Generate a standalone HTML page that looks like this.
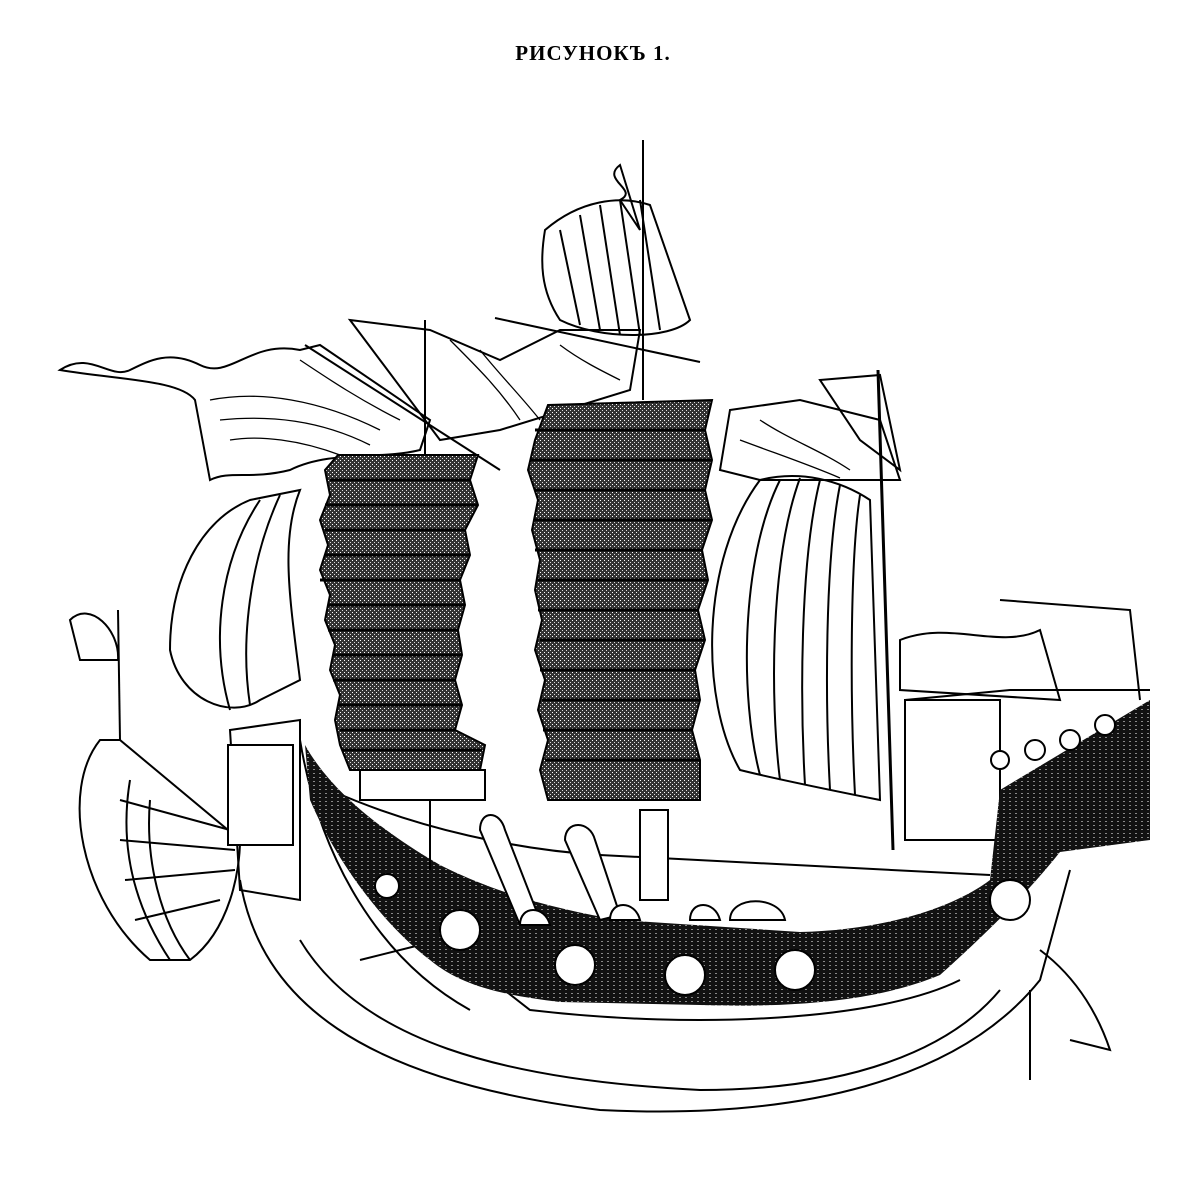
<!DOCTYPE html>
<html><head><meta charset="utf-8"><style>
html,body{margin:0;padding:0;background:#fff;}
svg{display:block}
</style></head><body>
<svg width="1202" height="1177" viewBox="0 0 1202 1177" xmlns="http://www.w3.org/2000/svg">
<defs>
<pattern id="dk" width="6" height="4" patternUnits="userSpaceOnUse">
<rect width="6" height="4" fill="#111"/><rect x="1" y="1" width="2" height="1" fill="#fff" opacity=".5"/>
</pattern>
<pattern id="sl" width="4" height="4" patternUnits="userSpaceOnUse">
<rect width="4" height="4" fill="#333"/><rect x="0" y="0" width="1" height="1" fill="#fff"/><rect x="2" y="2" width="1" height="1" fill="#ddd"/>
</pattern>
</defs>
<text x="593" y="60" text-anchor="middle" font-family="Liberation Serif, serif" font-weight="bold" font-size="21" letter-spacing="1">РИСУНОКЪ 1.</text>
<g fill="none" stroke="#000" stroke-width="2">
<!-- masts -->
<line x1="425" y1="320" x2="425" y2="460"/>
<line x1="643" y1="140" x2="643" y2="400"/>
<line x1="878" y1="370" x2="893" y2="850" stroke-width="3"/>
<line x1="118" y1="610" x2="120" y2="740"/>
<!-- flags -->
<path d="M60 370 C90 350,110 380,130 370 S170 350,200 365 S250 340,300 350 L320 345 L430 420 L420 450 C380 460,330 450,290 470 C250 480,230 470,210 480 L195 400 C180 380,120 380,60 370Z"/>
<path stroke-width="1.3" d="M210 400 C260 390,320 400,380 430 M220 420 C270 415,320 420,370 445 M230 440 C260 435,300 440,340 455 M300 360 C330 380,360 400,400 420"/>
<path d="M305 345 L500 470"/>
<path d="M350 320 L430 330 L500 360 L560 330 L640 330 L630 390 L500 430 L440 440 Z"/>
<path stroke-width="1.3" d="M450 340 C480 370,500 390,520 420 M480 350 C500 375,520 395,540 420 M560 345 C580 360,600 370,620 380"/>
<path d="M620 165 C600 180,640 190,620 200 L640 230 Z"/>
<path d="M820 380 L880 375 L900 470 L860 440 Z"/>
<path d="M730 410 L800 400 L880 420 L900 480 L760 480 L720 470 Z"/>
<path stroke-width="1.3" d="M760 420 C790 440,820 450,850 470 M740 440 C780 455,810 465,840 478"/>
<path d="M70 620 C90 600,120 630,118 660 L80 660 Z"/>
<!-- top sail -->
<path d="M545 230 C580 200,620 195,650 205 L690 320 C670 340,600 340,560 320 C540 290,540 260,545 230Z"/>
<path d="M560 230 L580 325 M580 215 L600 330 M600 205 L620 335 M620 200 L640 335 M640 200 L660 330"/>
<line x1="495" y1="318" x2="700" y2="362"/>
<!-- right big sail -->
<path d="M760 480 C800 470,840 480,870 500 L880 800 C830 790,780 780,740 770 C700 700,700 560,760 480Z"/>
<path d="M780 480 C740 560,740 700,760 775 M800 478 C770 560,770 700,780 780 M820 480 C800 560,800 700,805 785 M840 485 C825 560,825 700,830 790 M860 495 C850 560,850 700,855 795"/>
<!-- left small sail -->
<path d="M250 500 C200 520,170 580,170 650 C180 700,230 720,260 700 L300 680 C290 600,280 540,300 490Z"/>
<path d="M260 500 C220 560,210 640,230 710 M280 495 C250 560,240 640,250 705"/>
<!-- bow sail -->
<path d="M100 740 C60 790,80 900,150 960 L190 960 C230 930,240 870,240 840 L120 740 Z"/>
<path d="M130 780 C120 840,130 900,170 960 M150 800 C145 860,160 920,190 960 M120 800 L230 830 M120 840 L235 850 M125 880 L235 870 M135 920 L220 900"/>
<!-- hull white lower -->
<path d="M240 880 C260 1000,360 1080,600 1110 C800 1120,960 1080,1040 980 L1070 870"/>
<path d="M300 940 C360 1040,500 1080,700 1090 C850 1090,950 1050,1000 990"/>
<path d="M360 960 L440 940 L530 1010 C700 1030,880 1020,960 980"/>
<path d="M1040 950 C1080 980,1100 1020,1110 1050 L1070 1040"/>
<line x1="1030" y1="990" x2="1030" y2="1080"/>
<!-- bow post -->
<path d="M230 730 L300 720 L300 900 L240 890 Z"/>
<path d="M300 740 C320 860,380 960,470 1010"/>
<!-- deck rail -->
<path d="M330 790 C420 830,520 850,600 855 L990 875"/>
<!-- stern house -->
<rect x="905" y="700" width="95" height="140"/>
<path d="M905 700 L1010 690 L1150 690"/>
<path d="M900 640 C950 620,1000 650,1040 630 L1060 700 L900 690 Z"/>
<path d="M1000 600 L1130 610 L1140 700"/>
</g>
<!-- dark hull band -->
<path fill="url(#dk)" d="M305 745 C330 790,380 830,440 865 C500 895,560 910,620 920 L800 932 C880 930,950 910,990 880 L1000 790 L1150 700 L1150 840 L1060 852 C1030 890,990 930,940 975 C880 1000,800 1008,700 1005 L560 1002 C500 995,460 985,430 960 C390 930,340 870,310 800 Z"/>
<!-- portholes -->
<g fill="#fff" stroke="#000" stroke-width="2">
<circle cx="387" cy="886" r="12"/>
<circle cx="460" cy="930" r="20"/><circle cx="575" cy="965" r="20"/><circle cx="685" cy="975" r="20"/>
<circle cx="795" cy="970" r="20"/><circle cx="1010" cy="900" r="20"/>
<circle cx="1000" cy="760" r="9"/><circle cx="1035" cy="750" r="10"/><circle cx="1070" cy="740" r="10"/><circle cx="1105" cy="725" r="10"/>
<path d="M480 830 C480 810,500 810,505 830 L540 920 L520 925 Z"/>
<path d="M565 840 C565 820,590 820,595 840 L620 915 L600 920 Z"/>
<rect x="640" y="810" width="28" height="90"/>
<path d="M520 925 C520 905,545 905,550 925Z M610 920 C610 900,635 900,640 920Z M690 920 C690 900,715 900,720 920Z"/>
<path d="M730 920 C730 895,780 895,785 920Z"/>
</g>
<g fill="#fff" stroke="#000" stroke-width="2">
<rect x="228" y="745" width="65" height="100"/>
<rect x="360" y="770" width="125" height="30"/>
<line x1="430" y1="800" x2="430" y2="870"/>
</g>
<!-- junk sails -->
<path fill="url(#sl)" stroke="#000" stroke-width="2" d="M338 455 L478 455 L470 480 L478 505 L465 530 L470 555 L460 580 L465 605 L458 630 L462 655 L455 680 L462 705 L455 730 L485 745 L480 770 L350 770 L340 745 L335 720 L340 695 L330 670 L335 645 L325 620 L330 595 L320 570 L328 545 L320 520 L330 495 L325 470 Z"/>
<g stroke="#000" stroke-width="3">
<line x1="330" y1="480" x2="470" y2="480"/><line x1="325" y1="505" x2="478" y2="505"/><line x1="325" y1="530" x2="465" y2="530"/><line x1="325" y1="555" x2="470" y2="555"/><line x1="320" y1="580" x2="460" y2="580"/><line x1="328" y1="605" x2="465" y2="605"/><line x1="328" y1="630" x2="458" y2="630"/><line x1="333" y1="655" x2="462" y2="655"/><line x1="333" y1="680" x2="455" y2="680"/><line x1="338" y1="705" x2="462" y2="705"/><line x1="340" y1="730" x2="455" y2="730"/><line x1="342" y1="750" x2="482" y2="750"/>
</g>
<path fill="url(#sl)" stroke="#000" stroke-width="2" d="M548 405 L712 400 L705 430 L712 460 L705 490 L712 520 L702 550 L708 580 L698 610 L705 640 L695 670 L700 700 L692 730 L700 760 L700 800 L548 800 L540 770 L548 740 L538 710 L545 680 L535 650 L542 620 L535 590 L540 560 L532 530 L538 500 L528 470 L535 440 Z"/>
<g stroke="#000" stroke-width="3">
<line x1="535" y1="430" x2="705" y2="430"/><line x1="530" y1="460" x2="712" y2="460"/><line x1="535" y1="490" x2="705" y2="490"/><line x1="535" y1="520" x2="712" y2="520"/><line x1="535" y1="550" x2="702" y2="550"/><line x1="538" y1="580" x2="708" y2="580"/><line x1="538" y1="610" x2="698" y2="610"/><line x1="540" y1="640" x2="705" y2="640"/><line x1="540" y1="670" x2="695" y2="670"/><line x1="542" y1="700" x2="700" y2="700"/><line x1="543" y1="730" x2="692" y2="730"/><line x1="545" y1="760" x2="700" y2="760"/>
</g>
</svg>
</body></html>
